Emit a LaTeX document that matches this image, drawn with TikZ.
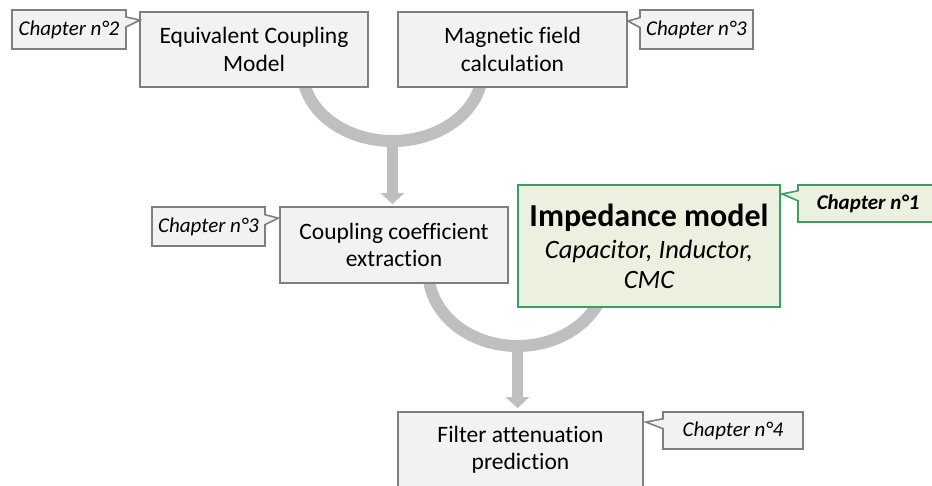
\documentclass[tikz,border=0pt]{standalone}
\usepackage{fontspec}
\setmainfont{Carlito}[Ligatures=NoCommon]
\usetikzlibrary{shapes.callouts,arrows.meta,calc}
\definecolor{boxfill}{RGB}{242,242,242}
\definecolor{boxline}{RGB}{127,127,127}
\definecolor{flowgray}{RGB}{191,191,191}
\definecolor{greenfill}{RGB}{235,241,222}
\definecolor{greenline}{RGB}{60,158,98}
\pgfdeclarelayer{background}
\pgfsetlayers{background,main}
\tikzset{
  stepbox/.style={draw=boxline, fill=boxfill, line width=1.8pt, inner sep=0pt,
    align=center, font=\fontsize{23.5}{27.5}\selectfont},
  keybox/.style={draw=greenline, fill=greenfill, line width=2pt, inner sep=0pt,
    align=center, font=\fontsize{26.5}{30}\selectfont},
  chapnote/.style={rectangle callout, draw=boxline, fill=boxfill, line width=1.6pt,
    inner sep=0pt, callout pointer width=10pt, minimum height=39pt,
    font=\fontsize{21}{24}\selectfont\itshape},
  keynote/.style={chapnote, draw=greenline, fill=greenfill,
    font=\fontsize{21}{24}\selectfont\bfseries\itshape},
  merge/.style={draw=flowgray, line width=12pt},
  flow/.style={draw=flowgray, line width=11pt, -{Triangle[width=23pt,length=11pt]}},
}
\begin{document}
\begin{tikzpicture}[x=1pt,y=1pt]
\useasboundingbox (0,0) rectangle (932,485);
\clip (0,0) rectangle (932,485);

% process steps
\node[stepbox, minimum width=228pt, minimum height=75pt] (ecm) at (254,435.5) {Equivalent Coupling\\Model};
\node[stepbox, minimum width=229pt, minimum height=75pt] (mag) at (512.5,435.5) {Magnetic field\\calculation};
\node[stepbox, minimum width=228pt, minimum height=76pt] (cce) at (394,240) {Coupling coefficient\\extraction};
\node[keybox, minimum width=262pt, minimum height=122pt] (imp) at (649,239)
  {{\fontsize{32}{36}\selectfont\bfseries Impedance model}\\[2pt]
   {\itshape Capacitor, Inductor,}\\{\itshape CMC}};
\node[stepbox, minimum width=245pt, minimum height=75pt] (fap) at (520.5,35.5) {Filter attenuation\\prediction};

% chapter notes
\coordinate (p2) at ($(ecm.north west)+(1,-9)$);
\coordinate (p3a) at ($(mag.north east)+(0,-10)$);
\coordinate (p3b) at ($(cce.north west)+(-1,-12)$);
\coordinate (p1) at ($(imp.north east)+(1,-10)$);
\coordinate (p4) at ($(fap.north east)+(2,-11)$);
\node[chapnote, minimum width=114pt, callout absolute pointer=(p2)] (n2) at (69,455.5) {Chapter n°2};
\node[chapnote, minimum width=113pt, callout absolute pointer=(p3a)] (n3a) at (696.5,455.5) {Chapter n°3};
\node[chapnote, minimum width=113pt, callout absolute pointer=(p3b)] (n3b) at (208.5,258.5) {Chapter n°3};
\node[keynote, minimum width=140pt, minimum height=37pt, callout absolute pointer=(p1)] (n1) at (868,281.5) {Chapter n°1};
\node[chapnote, minimum width=140pt, minimum height=37pt, callout absolute pointer=(p4)] (n4) at (733,54.5) {Chapter n°4};

% merging flows
\coordinate (j1) at (392.5,344);
\coordinate (j2) at (517.5,139);
\begin{pgfonlayer}{background}
  \draw[merge] ($(j1)+(-90,71)$) arc[start angle=180, end angle=360, x radius=90, y radius=71];
  \draw[flow, shorten >=2pt] (j1) -- (j1 |- cce.north);
  \draw[merge] ($(j2)+(-89,74)$) arc[start angle=180, end angle=360, x radius=89, y radius=74];
  \draw[flow, shorten >=3pt] (j2) -- (j2 |- fap.north);
\end{pgfonlayer}
\end{tikzpicture}
\end{document}
